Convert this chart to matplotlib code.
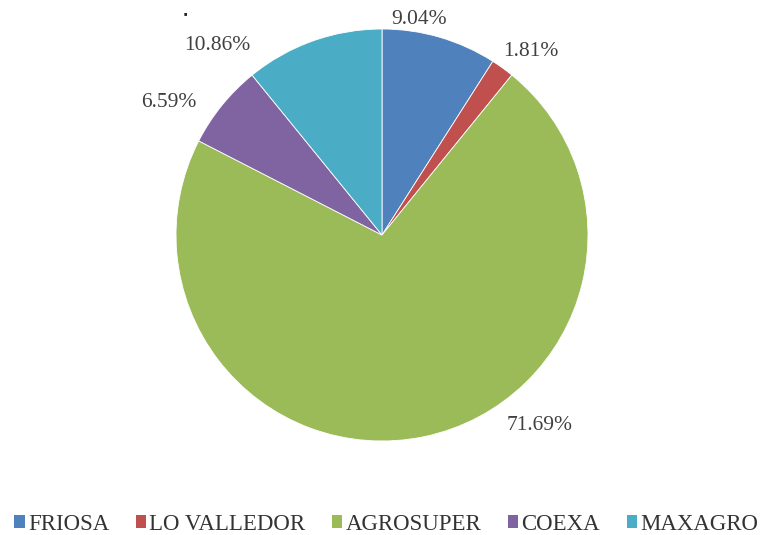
import matplotlib.pyplot as plt
from matplotlib.patches import Patch

NAMES = ["FRIOSA", "LO VALLEDOR", "AGROSUPER", "COEXA", "MAXAGRO"]
SHARES = [9.04, 1.81, 71.69, 6.59, 10.86]
COLORS = ["#4F81BD", "#C0504D", "#9BBB59", "#8064A2", "#4BACC6"]
# label anchor points, in pie radius units
LABEL_POS = [(0.18, 1.044), (0.723, 0.893), (0.767, -0.927), (-1.036, 0.641), (-0.80, 0.918)]

plt.rcParams["font.family"] = ["Liberation Serif", "DejaVu Serif"]

fig = plt.figure(figsize=(7.62, 5.35), dpi=100)
cx, cy, r = 382, 235, 206
ax = fig.add_axes([(cx - r) / 762, (535 - cy - r) / 535, 2 * r / 762, 2 * r / 535])

ax.pie(SHARES, colors=COLORS, startangle=90, counterclock=False,
       wedgeprops=dict(edgecolor="white", linewidth=0.6))
ax.set_xlim(-1, 1)
ax.set_ylim(-1, 1)
ax.set_aspect("auto")

for v, (x, y) in zip(SHARES, LABEL_POS):
    ax.text(x, y, f"{v:.2f}%", ha="center", va="center", fontsize=15.5,
            color="#404040", clip_on=False)

fig.text(185 / 762, 1 - 14 / 535, "■", fontsize=4, ha="center", va="center", color="#222222")

handles = [Patch(facecolor=c, label=n) for n, c in zip(NAMES, COLORS)]
fig.legend(handles=handles, loc="center", bbox_to_anchor=(0.507, 1 - 524 / 535),
           ncol=5, frameon=False, fontsize=16.5, handlelength=0.45, handleheight=0.5,
           handletextpad=0.15, columnspacing=1.15, labelcolor="#333333")

fig.savefig("out.png", dpi=100)
